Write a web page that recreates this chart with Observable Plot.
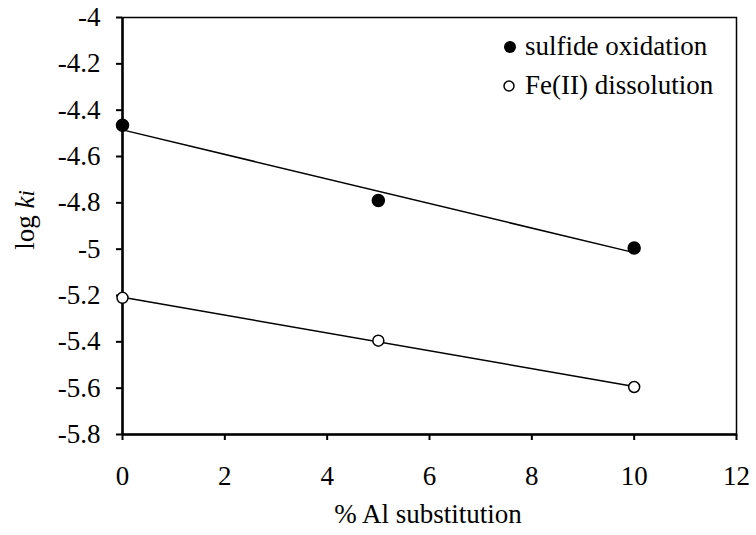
<!DOCTYPE html>
<html>
<head>
<meta charset="utf-8">
<script src="https://cdn.jsdelivr.net/npm/d3@7"></script>
<script src="https://cdn.jsdelivr.net/npm/@observablehq/plot@0.6"></script>
<style>
  body { margin: 0; background: #fff; }
  #wrap { position: relative; width: 756px; height: 535px; }
  #legend { position: absolute; left: 0; top: 0; pointer-events: none; }
</style>
</head>
<body>
<div id="wrap"></div>
<script>
const alSub = [0, 5, 10];
const sulfideOxidation = [-4.465, -4.79, -4.995];
const fe2Dissolution = [-5.21, -5.395, -5.595];
const xTicks = [0, 2, 4, 6, 8, 10, 12];
const yTicks = [-5.8, -5.6, -5.4, -5.2, -5, -4.8, -4.6, -4.4, -4.2, -4];
const seriesNames = ["sulfide oxidation", "Fe(II) dissolution"];

const data = [
  ...alSub.map((x, i) => ({x, y: sulfideOxidation[i], s: seriesNames[0]})),
  ...alSub.map((x, i) => ({x, y: fe2Dissolution[i], s: seriesNames[1]}))
];
const s1 = data.filter(d => d.s === seriesNames[0]);
const s2 = data.filter(d => d.s === seriesNames[1]);

const font = '"Liberation Serif", "Times New Roman", serif';
const fs = 27;

const plot = Plot.plot({
  width: 756,
  height: 535,
  marginLeft: 122,
  marginRight: 20,
  marginTop: 17,
  marginBottom: 101,
  style: {fontFamily: font, fontSize: fs + "px", color: "#000", background: "#fff"},
  x: {domain: [0, 12]},
  y: {domain: [-5.8, -4]},
  marks: [
    Plot.frame({stroke: "#000", strokeWidth: 1.5}),
    Plot.axisX({ticks: xTicks, tickSize: 6, tickPadding: 25, tickFormat: d => String(d), label: null, strokeWidth: 2, fontFamily: font, fontSize: fs}),
    Plot.axisY({ticks: yTicks, tickSize: 6, tickPadding: 16, tickFormat: d => String(d), label: null, strokeWidth: 2, fontFamily: font, fontSize: fs}),
    Plot.ruleX([0], {stroke: "#000", strokeWidth: 2.5}),
    Plot.ruleY([-5.8], {stroke: "#000", strokeWidth: 2.5}),
    Plot.linearRegressionY(s1, {x: "x", y: "y", stroke: "#000", strokeWidth: 1.5, ci: 0}),
    Plot.linearRegressionY(s2, {x: "x", y: "y", stroke: "#000", strokeWidth: 1.5, ci: 0}),
    Plot.dot(s1, {x: "x", y: "y", r: 6, fill: "#000", stroke: "#000"}),
    Plot.dot(s2, {x: "x", y: "y", r: 5.5, fill: "#fff", stroke: "#000", strokeWidth: 1.5})
  ]
});

const svg = d3.select(plot);
svg.append("text")
  .attr("x", 428).attr("y", 523)
  .attr("text-anchor", "middle")
  .attr("font-family", font).attr("font-size", fs)
  .text("% Al substitution");
const yl = svg.append("text")
  .attr("transform", "translate(34,220) rotate(-90)")
  .attr("text-anchor", "middle")
  .attr("font-family", font).attr("font-size", fs);
yl.append("tspan").text("log ");
yl.append("tspan").attr("font-style", "italic").text("k");
yl.append("tspan").attr("font-style", "italic").attr("font-size", 23).text("i");

const wrap = document.getElementById("wrap");
wrap.appendChild(plot);

// legend overlay
const lg = d3.select(wrap).append("svg")
  .attr("id", "legend").attr("width", 756).attr("height", 535);
lg.append("circle").attr("cx", 510).attr("cy", 47).attr("r", 6).attr("fill", "#000");
lg.append("circle").attr("cx", 509).attr("cy", 86).attr("r", 5).attr("fill", "#fff").attr("stroke", "#000").attr("stroke-width", 1.5);
lg.append("text").attr("x", 525).attr("y", 55).attr("font-family", font).attr("font-size", fs).text(seriesNames[0]);
lg.append("text").attr("x", 525).attr("y", 94).attr("font-family", font).attr("font-size", fs).text(seriesNames[1]);
</script>
</body>
</html>
